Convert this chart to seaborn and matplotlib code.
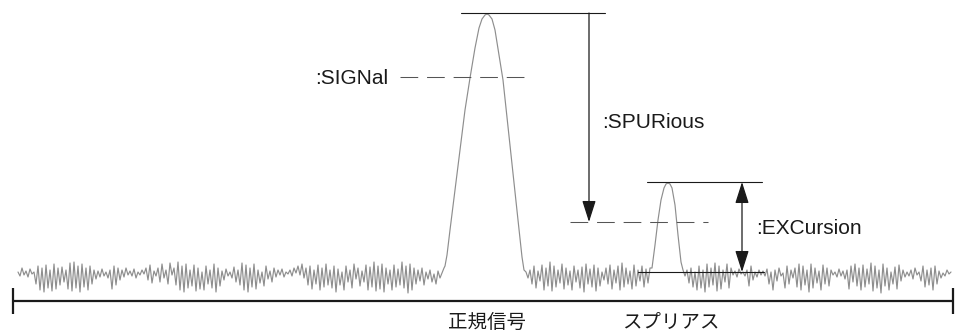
import numpy as np
import pandas as pd
import matplotlib
matplotlib.use("Agg")
import matplotlib.pyplot as plt
import seaborn as sns

sns.set_theme(style="white")
plt.rcParams["font.family"] = ["Liberation Sans", "Noto Sans CJK JP", "DejaVu Sans"]

# ---- spectrum trace (horizontal position, displayed level row) ----
noise_a_start, noise_a_step = 18, 2
noise_a = [
    272, 276, 268, 275, 271, 277, 269, 274, 272, 284, 266, 290, 268, 292, 265, 288, 270, 291, 264, 289,
    268, 285, 267, 282, 270, 289, 263, 291, 262, 288, 266, 292, 264, 287, 268, 290, 266, 284, 270, 279,
    271, 277, 269, 276, 272, 278, 270, 289, 266, 285, 268, 280, 270, 277, 268, 275, 271, 276, 269, 278,
    272, 275, 270, 274, 268, 280, 265, 283, 271, 276, 268, 282, 264, 278, 270, 284, 263, 275, 268, 285,
    262, 290, 266, 292, 264, 288, 270, 286, 265, 291, 268, 289, 272, 290, 266, 284, 270, 288, 264, 292,
    268, 286, 271, 280, 269, 276, 272, 278, 267, 282, 270, 285, 263, 290, 265, 292, 268, 287, 264, 289,
    270, 283, 272, 286, 266, 279, 271, 282, 268, 277, 270, 275, 269, 277, 272, 274, 270, 276, 268, 273,
    266, 275, 264, 278, 268, 285, 266, 289, 270, 284, 265, 290, 268, 287, 264, 285, 270, 288, 266, 292,
    269, 285, 272, 290, 266, 282, 270, 288, 264, 279, 268, 286, 271, 282, 265, 290, 267, 287, 262, 291,
    266, 289, 264, 292, 268, 284, 270, 290, 265, 287, 269, 285, 262, 288, 266, 293, 264, 290, 268, 284,
    270, 281, 268, 285, 272, 279, 270, 282, 274, 284, 271, 278, 273, 268,
]
signal_x = [445, 447, 450, 455, 460, 465, 470, 475, 479, 482, 485, 487, 489, 492, 495, 499, 503, 508, 513, 518, 522, 524]
signal_y = [266, 255, 230, 190, 150, 110, 78, 48, 28, 19, 15, 14, 15, 19, 30, 55, 80, 127, 173, 220, 257, 270]

noise_b_start, noise_b_step = 526, 2
noise_b = [
    272, 278, 270, 284, 266, 288, 271, 281, 265, 290, 268, 286, 262, 291, 266, 287, 270, 283, 264, 289,
    268, 285, 271, 290, 266, 282, 270, 288, 267, 292, 264, 284, 269, 287, 265, 291, 268, 286, 272, 280,
    268, 284, 265, 289, 270, 283, 266, 290, 263, 287, 268, 284, 271, 289, 265, 286, 270, 281, 266, 287,
    269, 283, 268,
]
spur_x = [652, 655, 658, 661, 664, 666, 668, 670, 672, 675, 678, 681, 683]
spur_y = [268, 245, 220, 200, 188, 184, 183, 184, 188, 205, 235, 262, 270]

noise_c_start, noise_c_step = 685, 2
noise_c = [
    276, 270, 283, 268, 287, 272, 290, 266, 288, 270, 292, 264, 287, 268, 285, 263, 291, 266, 289, 270,
    282, 264, 288, 268, 275, 271, 277, 269, 274, 272, 276, 270, 286, 266, 280, 272, 277, 270, 275, 271,
    276, 269, 284, 272, 290, 270, 281, 268, 276, 273, 288, 266, 284, 270, 278, 268, 287, 264, 290, 266,
    285, 270, 292, 264, 288, 268, 283, 271, 290, 265, 284, 268, 286, 270, 275, 272, 277, 269, 276, 271,
    279, 270, 289, 266, 282, 264, 286, 268, 290, 265, 287, 269, 284, 263, 291, 266, 288, 270, 293, 264,
    286, 268, 290, 272, 284, 267, 289, 265, 281, 270, 277, 272, 276, 270, 279, 268, 275, 272,
    281, 266, 287, 270, 285, 268, 290, 266, 284, 271, 278, 273, 276, 270, 274, 272,
]

# ---- reference levels ----
signal_top = 13
signal_threshold = 77
spur_threshold = 222
spur_top = 182
spur_floor = 272

axis_row = 301
axis_left, axis_right = 13, 953

labels_bottom = ["正規信号", "スプリアス"]
labels_bottom_x = [487, 671]

# assemble the trace
xs, ys = [], []
xs += [noise_a_start + i * noise_a_step for i in range(len(noise_a))]; ys += noise_a
xs += signal_x; ys += signal_y
xs += [noise_b_start + i * noise_b_step for i in range(len(noise_b))]; ys += noise_b
xs += spur_x; ys += spur_y
xs += [noise_c_start + i * noise_c_step for i in range(len(noise_c))]; ys += noise_c
trace = pd.DataFrame({"freq": xs, "level": ys})

fig = plt.figure(figsize=(9.56, 3.35), dpi=100)
ax = fig.add_axes([0, 0, 1, 1])
ax.set_xlim(0, 956)
ax.set_ylim(335, 0)
ax.axis("off")

sns.lineplot(data=trace, x="freq", y="level", sort=False, estimator=None,
             color="#8e8e8e", linewidth=0.85, ax=ax)

ink = "#1a1a1a"
dash = (17, 8.5)

# frequency axis
ax.plot([axis_left, axis_right], [axis_row, axis_row], color=ink, lw=1.6, solid_capstyle="butt")
for xe in (axis_left, axis_right):
    ax.plot([xe, xe], [axis_row - 13, axis_row + 13], color=ink, lw=1.6, solid_capstyle="butt")

# signal peak top and threshold
ax.plot([461, 605], [signal_top, signal_top], color=ink, lw=0.8)
ax.plot([400, 526], [signal_threshold, signal_threshold], color="#555555", lw=0.75, dashes=dash)
ax.text(315, signal_threshold + 1, ":SIGNal", fontsize=15, color=ink, va="center", ha="left")

# spurious offset arrow
ax.annotate("", xy=(589, spur_threshold), xytext=(589, signal_top),
            arrowprops=dict(arrowstyle="-|>,head_length=1.1,head_width=0.35", color=ink, lw=0.9,
                            shrinkA=0, shrinkB=0))
ax.plot([570, 708], [spur_threshold, spur_threshold], color="#555555", lw=0.75, dashes=dash)
ax.text(602, 123, ":SPURious", fontsize=15, color=ink, va="center", ha="left")

# excursion
ax.plot([647, 762], [spur_top, spur_top], color=ink, lw=0.8)
ax.plot([638, 764], [spur_floor, spur_floor], color=ink, lw=0.8)
ax.annotate("", xy=(742, spur_floor), xytext=(742, spur_top),
            arrowprops=dict(arrowstyle="<|-|>,head_length=1.1,head_width=0.35", color=ink, lw=0.9,
                            shrinkA=0, shrinkB=0))
ax.text(756, 228, ":EXCursion", fontsize=15, color=ink, va="center", ha="left")

for lab, lx in zip(labels_bottom, labels_bottom_x):
    ax.text(lx, 322, lab, fontsize=14, color=ink, va="center", ha="center",
            family=["Noto Sans CJK JP", "DejaVu Sans"])

fig.savefig("out.png", dpi=100, facecolor="white")
